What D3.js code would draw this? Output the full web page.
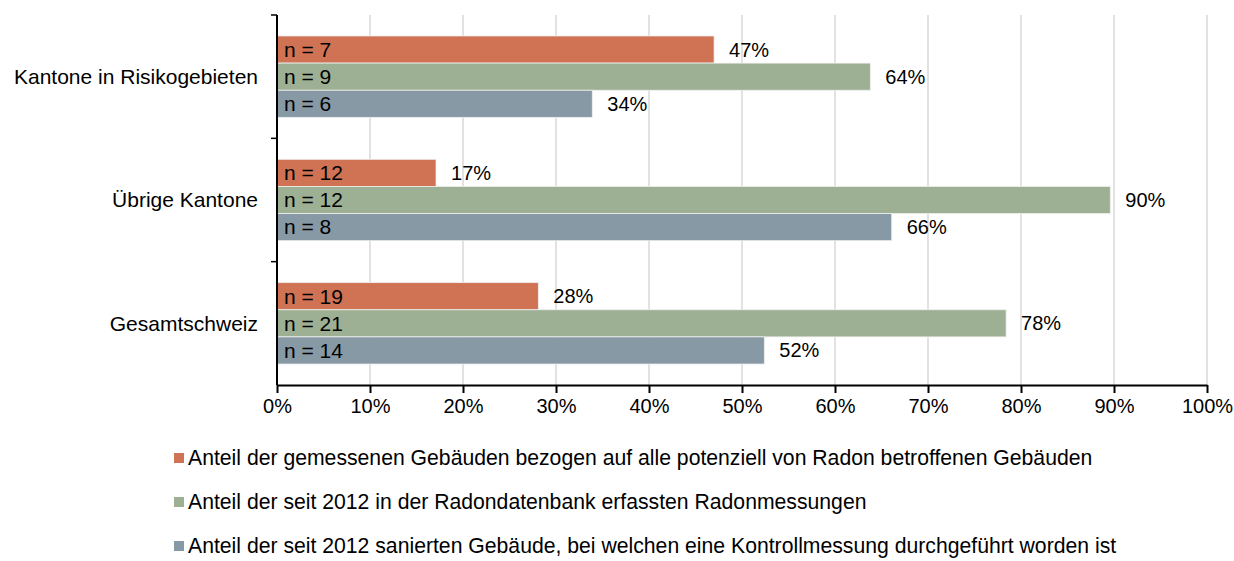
<!DOCTYPE html>
<html>
<head>
<meta charset="utf-8">
<script src="https://cdn.jsdelivr.net/npm/d3@7"></script>
<style>
  body { margin: 0; background: #fff; }
  text { font-family: "Liberation Sans", Arial, sans-serif; fill: #000; }
</style>
</head>
<body>
<div id="chart"></div>
<script>
// Categories (top to bottom) and series
var categories = ["Kantone in Risikogebieten", "Übrige Kantone", "Gesamtschweiz"];
var seriesNames = [
  "Anteil der gemessenen Gebäuden bezogen auf alle potenziell von Radon betroffenen Gebäuden",
  "Anteil der seit 2012 in der Radondatenbank erfassten Radonmessungen",
  "Anteil der seit 2012 sanierten Gebäude, bei welchen eine Kontrollmessung durchgeführt worden ist"
];
var seriesColors = ["#d07254", "#9db094", "#8799a5"];

// Percent values per series, one per category
var measured = [47.0, 17.1, 28.1];
var database = [63.8, 89.6, 78.4];
var renovated = [33.9, 66.1, 52.4];

// Sample sizes (n) per series, one per category
var nMeasured = [7, 12, 19];
var nDatabase = [9, 12, 21];
var nRenovated = [6, 8, 14];

var xTicks = [0, 10, 20, 30, 40, 50, 60, 70, 80, 90, 100];

// Plot area (note: 'top' is reserved on window, so use plot* names)
var width = 1234, height = 561;
var plotLeft = 277, plotRight = 1207, plotTop = 15, plotBottom = 385;

var series = [measured, database, renovated];
var nValues = [nMeasured, nDatabase, nRenovated];

var svg = d3.select("#chart").append("svg")
    .attr("width", width)
    .attr("height", height);

// Scales
var x = d3.scaleLinear().domain([0, 100]).range([plotLeft, plotRight]);

var y0 = d3.scaleBand()
    .domain(categories)
    .range([plotTop, plotBottom])
    .paddingInner(0.34)
    .paddingOuter(0.17);

var y1 = d3.scaleBand()
    .domain([0, 1, 2])
    .range([0, y0.bandwidth()]);

// Vertical grid lines
svg.selectAll("line.grid").data(xTicks.slice(1)).enter()
  .append("line")
    .attr("class", "grid")
    .attr("x1", function(d) { return x(d); })
    .attr("x2", function(d) { return x(d); })
    .attr("y1", plotTop)
    .attr("y2", plotBottom)
    .attr("stroke", "#d9d9d9")
    .attr("stroke-width", 1.5);

// Flatten into rows for the bars
var rows = [];
categories.forEach(function(c, ci) {
  series.forEach(function(s, si) {
    rows.push({cat: c, s: si, v: s[ci], n: nValues[si][ci]});
  });
});

var groups = svg.selectAll("g.bar").data(rows).enter()
  .append("g")
    .attr("class", "bar")
    .attr("transform", function(d) { return "translate(0," + (y0(d.cat) + y1(d.s)) + ")"; });

groups.append("rect")
    .attr("x", x(0))
    .attr("y", 0)
    .attr("width", function(d) { return x(d.v) - x(0); })
    .attr("height", y1.bandwidth())
    .attr("fill", function(d) { return seriesColors[d.s]; })
    .attr("stroke", "#eef0ee")
    .attr("stroke-width", 0.8);

// n = ... inside bars
groups.append("text")
    .attr("x", x(0) + 7)
    .attr("y", y1.bandwidth() / 2)
    .attr("dy", "0.35em")
    .style("font-size", "21px")
    .text(function(d) { return "n = " + d.n; });

// percentage at bar end
groups.append("text")
    .attr("x", function(d) { return x(d.v) + 15; })
    .attr("y", y1.bandwidth() / 2)
    .attr("dy", "0.35em")
    .style("font-size", "20px")
    .text(function(d) { return Math.round(d.v) + "%"; });

// Left axis with ticks on category boundaries
var yAxis = svg.append("g").attr("transform", "translate(" + plotLeft + ",0)");
yAxis.append("line")
    .attr("x1", 0).attr("x2", 0)
    .attr("y1", plotTop).attr("y2", plotBottom)
    .attr("stroke", "#000").attr("stroke-width", 2);
var bounds = [plotTop].concat(categories.slice(0, 2).map(function(c) {
  return y0(c) + y0.bandwidth() + y0.step() * y0.paddingInner() / 2;
}));
yAxis.selectAll("line.tick").data(bounds).enter()
  .append("line")
    .attr("class", "tick")
    .attr("x1", -6).attr("x2", 0)
    .attr("y1", function(d) { return d; })
    .attr("y2", function(d) { return d; })
    .attr("stroke", "#000").attr("stroke-width", 1.5);
yAxis.selectAll("text").data(categories).enter()
  .append("text")
    .attr("x", -19)
    .attr("y", function(d) { return y0(d) + y0.bandwidth() / 2; })
    .attr("dy", "0.35em")
    .attr("text-anchor", "end")
    .style("font-size", "21px")
    .text(function(d) { return d; });

// Bottom axis
var xAxis = svg.append("g")
    .attr("transform", "translate(0," + plotBottom + ")")
    .call(d3.axisBottom(x).tickValues(xTicks).tickSize(8).tickSizeOuter(0)
      .tickFormat(function(d) { return d + "%"; }));
xAxis.select(".domain").attr("stroke-width", 2);
xAxis.selectAll(".tick line").attr("stroke-width", 2);
xAxis.selectAll(".tick text")
    .attr("y", 14)
    .style("font-size", "20px")
    .style("font-family", "Liberation Sans, Arial, sans-serif");

// Legend
var legend = svg.selectAll("g.legend").data(seriesNames).enter()
  .append("g")
    .attr("class", "legend")
    .attr("transform", function(d, i) { return "translate(174," + (458 + i * 44) + ")"; });
legend.append("rect")
    .attr("x", 0).attr("y", -5)
    .attr("width", 10).attr("height", 10)
    .attr("fill", function(d, i) { return seriesColors[i]; });
legend.append("text")
    .attr("x", 14)
    .attr("dy", "0.35em")
    .style("font-size", "21.2px")
    .text(function(d) { return d; });
</script>
</body>
</html>
